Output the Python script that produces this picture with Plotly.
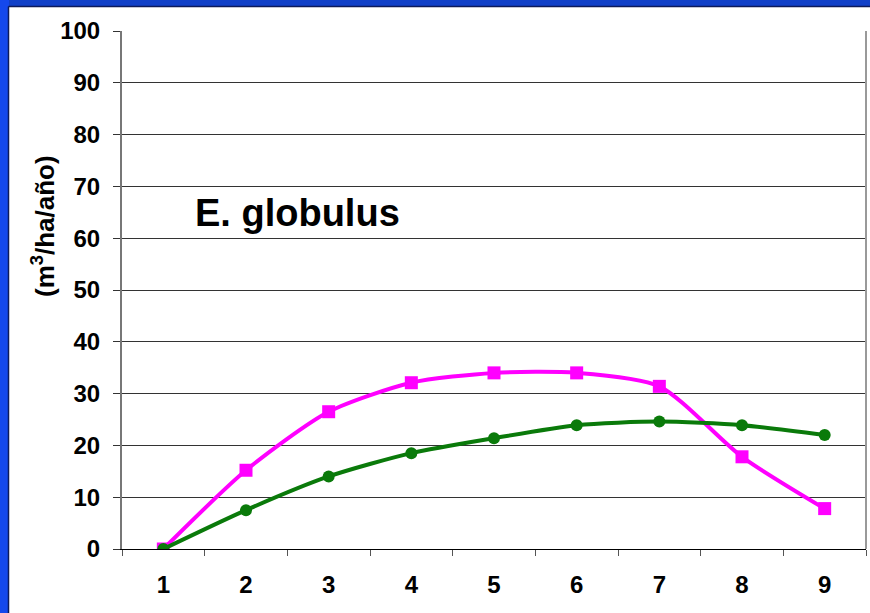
import plotly.graph_objects as go

# years (x categories) and growth series, m3/ha/año
years = ["1", "2", "3", "4", "5", "6", "7", "8", "9"]
serie_rosa = [0, 15.2, 26.5, 32.1, 34.0, 34.0, 31.4, 17.8, 7.8]
serie_verde = [0, 7.5, 14.0, 18.5, 21.4, 23.9, 24.6, 23.9, 22.0]
y_ticks = [0, 10, 20, 30, 40, 50, 60, 70, 80, 90, 100]

FONT = "Liberation Sans, Arial, sans-serif"

fig = go.Figure()

fig.add_trace(go.Scatter(
    x=years, y=serie_rosa, mode="lines+markers",
    line=dict(color="#ff00ff", width=4, shape="spline", smoothing=0.7),
    marker=dict(symbol="square", size=13, color="#ff00ff"),
    showlegend=False,
))
fig.add_trace(go.Scatter(
    x=years, y=serie_verde, mode="lines+markers",
    line=dict(color="#0a7a0a", width=4, shape="spline", smoothing=0.7),
    marker=dict(symbol="circle", size=12, color="#0a7a0a"),
    showlegend=False,
))

# blue frame of the slide (paper coords relative to plot area)
L, R, T, B = 122, 866, 31, 549
W, H = R - L, B - T
def px(x):
    return (x - L) / W
def py(y):
    return (B - y) / H

fig.add_shape(type="rect", xref="paper", yref="paper",
              x0=px(-2), x1=px(872), y0=py(7), y1=py(-2),
              fillcolor="#1040c8", line_width=0, layer="below")
fig.add_shape(type="rect", xref="paper", yref="paper",
              x0=px(-2), x1=px(9), y0=py(615), y1=py(-2),
              fillcolor="#1448ec", line_width=0, layer="below")
fig.add_shape(type="line", xref="paper", yref="paper",
              x0=px(8.5), x1=px(872), y0=py(6.5), y1=py(6.5),
              line=dict(color="#0c1a5a", width=1.5))
fig.add_shape(type="line", xref="paper", yref="paper",
              x0=px(8.5), x1=px(8.5), y0=py(615), y1=py(6.5),
              line=dict(color="#0c1a5a", width=1.5))

fig.add_annotation(
    x=px(297), y=py(213), xref="paper", yref="paper",
    xanchor="center", yanchor="middle",
    text="E. globulus", showarrow=False,
    font=dict(family=FONT, size=38, color="black", weight="bold"),
)
fig.add_annotation(
    x=px(43), y=py(226), xref="paper", yref="paper",
    xanchor="center", yanchor="middle",
    text="(m<sup>3</sup>/ha/año)", showarrow=False, textangle=-90,
    font=dict(family=FONT, size=26, color="black", weight="bold"),
)

fig.update_layout(
    width=870, height=613,
    margin=dict(l=L, r=870 - R, t=T, b=613 - B),
    paper_bgcolor="white", plot_bgcolor="white",
    font=dict(family=FONT, size=24, color="black"),
)
fig.update_xaxes(
    type="category", range=[-0.5, 8.5], tickson="boundaries",
    ticks="outside", ticklen=6,
    tickcolor="#555", showgrid=False, showline=True, linecolor="black",
    linewidth=1, mirror=False,
    tickfont=dict(family=FONT, size=24, color="black", weight="bold"),
    ticklabelstandoff=14,
)
fig.update_yaxes(
    range=[0, 100], tickvals=y_ticks, ticks="outside", ticklen=7,
    tickcolor="#333", showgrid=True, gridcolor="#333", gridwidth=1,
    showline=True, linecolor="#777", linewidth=2, zeroline=False,
    tickfont=dict(family=FONT, size=24, color="black", weight="bold"),
    ticklabelstandoff=8,
)
# right border of the plot area
fig.add_shape(type="line", xref="paper", yref="paper", x0=1, x1=1, y0=0, y1=1,
              line=dict(color="#999", width=2))

fig.write_html("out.html", config={"displayModeBar": False},
               post_script="document.body.style.margin='0';")
